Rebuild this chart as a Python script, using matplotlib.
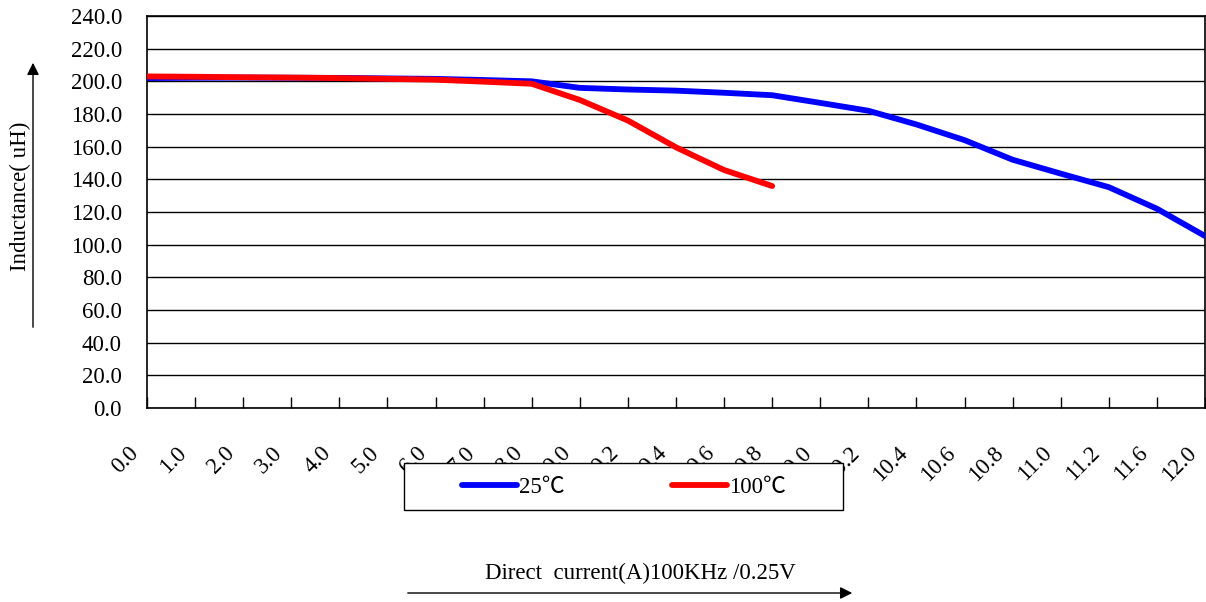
import matplotlib
matplotlib.use("Agg")
import matplotlib.pyplot as plt
import matplotlib.patches as patches
import matplotlib.transforms as mtransforms

plt.rcParams['font.family'] = ['Liberation Serif', 'Noto Sans CJK JP']

# Data
currents = ["0.0", "1.0", "2.0", "3.0", "4.0", "5.0", "6.0", "7.0", "8.0",
            "9.0", "9.2", "9.4", "9.6", "9.8", "10.0", "10.2", "10.4", "10.6",
            "10.8", "11.0", "11.2", "11.6", "12.0"]
l_25c = [202.0, 202.2, 202.3, 202.2, 202.1, 201.8, 201.5, 200.8, 200.0,
         196.0, 195.0, 194.3, 193.0, 191.5, 186.8, 182.0, 173.6, 164.0,
         152.0, 143.5, 135.2, 122.0, 105.3]
l_100c = [203.0, 202.8, 202.5, 202.3, 202.0, 201.5, 201.0, 199.8, 198.5,
          188.6, 176.0, 159.6, 145.7, 135.9]
y_ticks = [0, 20, 40, 60, 80, 100, 120, 140, 160, 180, 200, 220, 240]

FS = 16.5

fig = plt.figure(figsize=(12.06, 6.02), dpi=100)
ax = fig.add_axes([147/1206, 1 - 408/602, (1205 - 147)/1206, (408 - 16)/602])

x25 = list(range(len(l_25c)))
x100 = list(range(len(l_100c)))
ax.plot(x25, l_25c, color='#0000ff', lw=4.2, solid_capstyle='round', solid_joinstyle='round', zorder=3)
ax.plot(x100, l_100c, color='#ff0000', lw=4.2, solid_capstyle='round', solid_joinstyle='round', zorder=4)

ax.set_xlim(0, len(currents) - 1)
ax.set_ylim(0, 240)
ax.set_yticks(y_ticks)
ax.set_yticklabels([f"{v:.1f}" for v in y_ticks], fontsize=FS)
ax.set_xticks(range(len(currents)))
ax.set_xticklabels(currents, fontsize=FS, rotation=45, ha='right', va='center',
                   rotation_mode='anchor')
ax.tick_params(axis='x', direction='in', length=8, width=1, pad=30)
ax.tick_params(axis='y', direction='in', length=0, pad=18)
shift = mtransforms.ScaledTranslation(-12/100, 0, fig.dpi_scale_trans)
for lab in ax.get_xticklabels():
    lab.set_transform(lab.get_transform() + shift)
ax.yaxis.grid(True, color='black', lw=1)
ax.set_axisbelow(True)
for s in ax.spines.values():
    s.set_linewidth(1.2)
    s.set_color('black')

# legend box drawn over the tick labels
rect = patches.Rectangle((404/1206, 1 - 510/602), (843 - 404)/1206, (510 - 463)/602,
                         transform=fig.transFigure, fc='white', ec='black', lw=1, zorder=3)
fig.patches.append(rect)
leg = fig.legend([ax.lines[0], ax.lines[1]], ["25℃", "100℃"], ncol=2, frameon=False,
                 loc='center', bbox_to_anchor=(624/1206, 1 - 487/602), fontsize=FS,
                 handlelength=2.4, handletextpad=0.08, columnspacing=4.7)
leg.set_zorder(5)

# axis titles with arrows
fig.text(20/1206, 1 - 196/602, "Inductance( uH)", rotation=90, ha='center', va='center', fontsize=FS)
fig.text(640/1206, 1 - 573/602, "Direct  current(A)100KHz /0.25V", ha='center', va='center', fontsize=FS)
fig.add_artist(patches.FancyArrowPatch((33/1206, 1 - 330/602), (33/1206, 1 - 60/602),
                                       transform=fig.transFigure, arrowstyle='-|>',
                                       mutation_scale=18, color='black', lw=1))
fig.add_artist(patches.FancyArrowPatch((405/1206, 1 - 593/602), (855/1206, 1 - 593/602),
                                       transform=fig.transFigure, arrowstyle='-|>',
                                       mutation_scale=18, color='black', lw=1))

fig.savefig("out.png", dpi=100)
